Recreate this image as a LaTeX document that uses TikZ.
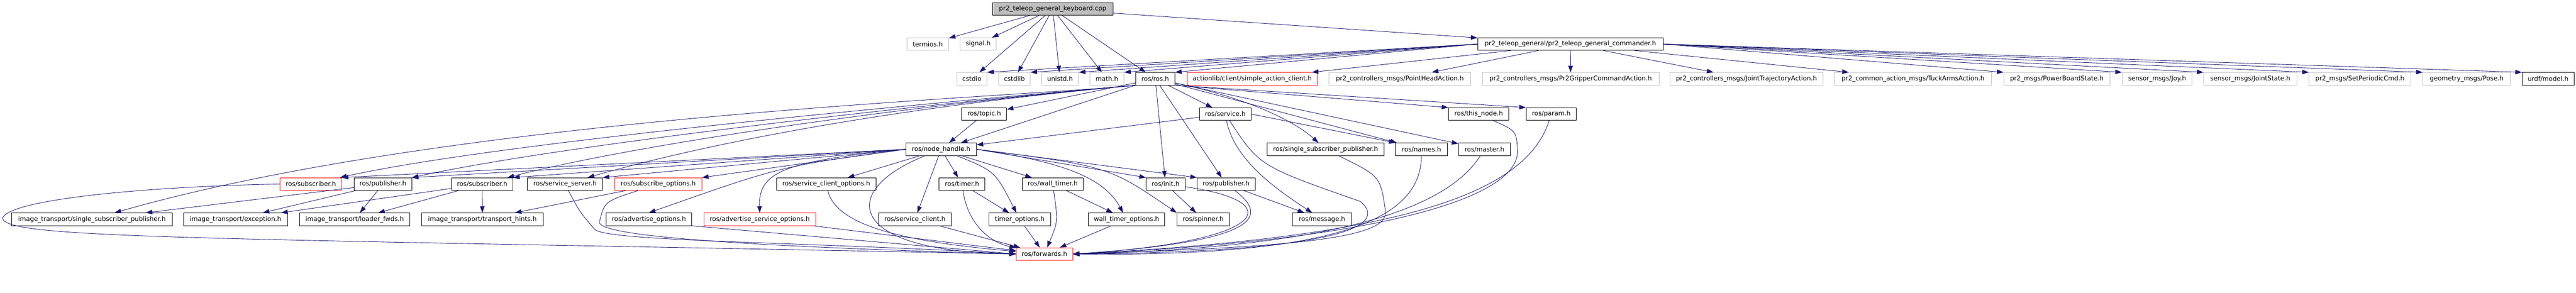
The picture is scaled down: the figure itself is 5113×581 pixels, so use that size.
\documentclass[tikz,border=0pt]{standalone}
\usepackage{fontspec}
\setmainfont{DejaVu Sans}
\usetikzlibrary{arrows.meta}
\definecolor{edgeblue}{HTML}{191970}
\definecolor{boxgray}{HTML}{BFBFBF}
\tikzset{
  hdr/.style={draw=black, fill=white, line width=0.9pt, inner sep=0pt, minimum height=25pt, text=black},
  hdrgray/.style={hdr, draw=boxgray},
  hdrred/.style={hdr, draw=red},
  hdrroot/.style={hdr, fill=boxgray},
  incl/.style={draw=edgeblue, line width=0.9pt, -{Triangle[length=13pt,width=9pt]}}
}
\begin{document}
\begin{tikzpicture}[x=1pt, y=-1pt, font=\fontsize{12.6}{15}\selectfont]
            \useasboundingbox (0,0) rectangle (5113,581);

            % Drawing node keyboard.cpp
            \node [hdrroot, minimum width=239pt] (kbd) at (2089.5,18.0) {pr2\_teleop\_general\_keyboard.cpp};

            % Drawing row of termios.h
            \node [hdrgray, minimum width=83pt] (termios) at (1841.5,87.5) {termios.h};
            \node [hdrgray, minimum width=71pt] (signal) at (1941.5,87.5) {signal.h};
            \node [hdr, minimum width=368pt] (cmdr) at (3117.0,87.5) {pr2\_teleop\_general/pr2\_teleop\_general\_commander.h};

            % Drawing row of cstdio
            \node [hdrgray, minimum width=60pt] (cstdio) at (1929.0,156.5) {cstdio};
            \node [hdrgray, minimum width=63pt] (cstdlib) at (2013.5,156.5) {cstdlib};
            \node [hdrgray, minimum width=74pt] (unistd) at (2104.0,156.5) {unistd.h};
            \node [hdrgray, minimum width=68pt] (mathh) at (2197.0,156.5) {math.h};
            \node [hdr, minimum width=78pt] (rosh) at (2293.0,156.5) {ros/ros.h};
            \node [hdrred, minimum width=259pt] (actcli) at (2485.5,156.5) {actionlib/client/simple\_action\_client.h};
            \node [hdrgray, minimum width=281pt] (headact) at (2778.5,156.5) {pr2\_controllers\_msgs/PointHeadAction.h};
            \node [hdrgray, minimum width=351pt] (gripact) at (3117.5,156.5) {pr2\_controllers\_msgs/Pr2GripperCommandAction.h};
            \node [hdrgray, minimum width=303pt] (trajact) at (3466.5,156.5) {pr2\_controllers\_msgs/JointTrajectoryAction.h};
            \node [hdrgray, minimum width=312pt] (tuckact) at (3797.0,156.5) {pr2\_common\_action\_msgs/TuckArmsAction.h};
            \node [hdrgray, minimum width=211pt] (powerst) at (4082.5,156.5) {pr2\_msgs/PowerBoardState.h};
            \node [hdrgray, minimum width=139pt] (joy) at (4281.5,156.5) {sensor\_msgs/Joy.h};
            \node [hdrgray, minimum width=185pt] (jointst) at (4466.5,156.5) {sensor\_msgs/JointState.h};
            \node [hdrgray, minimum width=202pt] (periodic) at (4684.0,156.5) {pr2\_msgs/SetPeriodicCmd.h};
            \node [hdrgray, minimum width=174pt] (pose) at (4896.0,156.5) {geometry\_msgs/Pose.h};
            \node [hdr, minimum width=103pt] (urdf) at (5057.5,156.5) {urdf/model.h};

            % Drawing row of ros/topic.h
            \node [hdr, minimum width=89pt] (topic) at (1953.5,226.5) {ros/topic.h};
            \node [hdr, minimum width=102pt] (service) at (2432.0,226.5) {ros/service.h};
            \node [hdr, minimum width=120pt] (thisnode) at (2935.0,226.5) {ros/this\_node.h};
            \node [hdr, minimum width=100pt] (param) at (3079.0,226.5) {ros/param.h};

            % Drawing row of ros/node_handle.h
            \node [hdr, minimum width=140pt] (nh) at (1868.0,296.5) {ros/node\_handle.h};
            \node [hdr, minimum width=232pt] (sspub) at (2631.0,296.5) {ros/single\_subscriber\_publisher.h};
            \node [hdr, minimum width=103pt] (names) at (2821.5,296.5) {ros/names.h};
            \node [hdr, minimum width=103pt] (master) at (2946.5,296.5) {ros/master.h};

            % Drawing row of ros/subscriber.h
            \node [hdrred, minimum width=122pt] (subred) at (617.0,365.5) {ros/subscriber.h};
            \node [hdr, minimum width=114pt] (pubit) at (760.0,365.5) {ros/publisher.h};
            \node [hdr, minimum width=122pt] (subit) at (957.0,365.5) {ros/subscriber.h};
            \node [hdr, minimum width=149pt] (srvserver) at (1121.5,365.5) {ros/service\_server.h};
            \node [hdrred, minimum width=173pt] (subopts) at (1306.5,365.5) {ros/subscribe\_options.h};
            \node [hdr, minimum width=198pt] (cliopts) at (1640.0,365.5) {ros/service\_client\_options.h};
            \node [hdr, minimum width=91pt] (timer) at (1909.5,365.5) {ros/timer.h};
            \node [hdr, minimum width=121pt] (walltimer) at (2089.5,365.5) {ros/wall\_timer.h};
            \node [hdr, minimum width=77pt] (init) at (2313.5,365.5) {ros/init.h};
            \node [hdr, minimum width=115pt] (pub) at (2433.5,365.5) {ros/publisher.h};

            % Drawing row of image_transport headers
            \node [hdr, minimum width=319pt] (itsspub) at (182.5,435.5) {image\_transport/single\_subscriber\_publisher.h};
            \node [hdr, minimum width=207pt] (itexc) at (467.5,435.5) {image\_transport/exception.h};
            \node [hdr, minimum width=218pt] (itloader) at (704.0,435.5) {image\_transport/loader\_fwds.h};
            \node [hdr, minimum width=241pt] (ithints) at (957.5,435.5) {image\_transport/transport\_hints.h};
            \node [hdr, minimum width=170pt] (advopts) at (1288.0,435.5) {ros/advertise\_options.h};
            \node [hdrred, minimum width=222pt] (advsrvopts) at (1508.0,435.5) {ros/advertise\_service\_options.h};
            \node [hdr, minimum width=144pt] (srvclient) at (1816.0,435.5) {ros/service\_client.h};
            \node [hdr, minimum width=122pt] (timeropts) at (2024.0,435.5) {timer\_options.h};
            \node [hdr, minimum width=152pt] (walltimeropts) at (2236.0,435.5) {wall\_timer\_options.h};
            \node [hdr, minimum width=104pt] (spinner) at (2388.0,435.5) {ros/spinner.h};
            \node [hdr, minimum width=118pt] (message) at (2624.0,435.5) {ros/message.h};

            % Drawing node ros/forwards.h
            \node [hdrred, minimum width=112pt] (fwd) at (2073.0,504.5) {ros/forwards.h};

            % Drawing includes of keyboard.cpp
            \draw [incl] (kbd) -- (termios);
            \draw [incl] (kbd) -- (signal);
            \draw [incl] (kbd) -- (cstdio);
            \draw [incl] (kbd) -- (cstdlib);
            \draw [incl] (kbd) -- (unistd);
            \draw [incl] (kbd) -- (mathh);
            \draw [incl] (kbd) -- (rosh);
            \draw [incl] (kbd) -- (cmdr);

            % Drawing includes of commander.h
            \draw [incl] (cmdr.west) -- (cstdio.north east);
            \draw [incl] (cmdr.west) -- (cstdlib.north east);
            \draw [incl] (cmdr.west) -- (unistd.north east);
            \draw [incl] (cmdr.west) -- (mathh.north east);
            \draw [incl] (cmdr.west) -- (rosh.north east);
            \draw [incl] (cmdr) -- (actcli);
            \draw [incl] (cmdr) -- (headact);
            \draw [incl] (cmdr) -- (gripact);
            \draw [incl] (cmdr) -- (trajact);
            \draw [incl] (cmdr) -- (tuckact);
            \draw [incl] (cmdr.east) -- (powerst.north west);
            \draw [incl] (cmdr.east) -- (joy.north west);
            \draw [incl] (cmdr.east) -- (jointst.north west);
            \draw [incl] (cmdr.east) -- (periodic.north west);
            \draw [incl] (cmdr.east) -- (pose.north west);
            \draw [incl] (cmdr.east) -- (urdf.north west);

            % Drawing includes of ros/ros.h
            \draw [incl] (rosh) -- (topic);
            \draw [incl] (rosh) -- (nh);
            \draw [incl] (rosh) -- (service);
            \draw [incl] (rosh) -- (init);
            \draw [incl] (rosh) -- (pub);
            \draw [incl] (rosh) -- (names);
            \draw [incl] (rosh) -- (master);
            \draw [incl] (rosh.south east) -- (thisnode.north west);
            \draw [incl] (rosh.south east) -- (param.north west);
            \draw [incl] (rosh) .. controls (2500,200) and (2580,250) .. (sspub);
            \draw [incl] (rosh.south west) .. controls (2000,195) and (900,230) .. (itsspub);
            \draw [incl] (rosh.south west) .. controls (1900,200) and (1000,280) .. (subred);
            \draw [incl] (rosh.south west) .. controls (1800,210) and (1100,290) .. (pubit);
            \draw [incl] (rosh.south west) .. controls (1750,215) and (1250,290) .. (subit);
            \draw [incl] (rosh.south west) .. controls (1700,220) and (1350,300) .. (srvserver);

            % Drawing includes of ros/node_handle.h
            \draw [incl] (nh.west) -- (subred.north east);
            \draw [incl] (nh.west) -- (pubit.north east);
            \draw [incl] (nh.west) -- (subit.north east);
            \draw [incl] (nh.west) -- (srvserver.north east);
            \draw [incl] (nh.west) -- (subopts.north east);
            \draw [incl] (nh) -- (cliopts);
            \draw [incl] (nh.west) .. controls (1550,330) .. (advopts.north);
            \draw [incl] (nh.west) .. controls (1560,320) and (1505,340) .. (advsrvopts.north);
            \draw [incl] (nh) -- (srvclient);
            \draw [incl] (nh) -- (timer);
            \draw [incl] (nh) .. controls (1975,340) .. (timeropts);
            \draw [incl] (nh) -- (walltimer);
            \draw [incl] (nh.east) .. controls (2100,320) and (2190,350) .. (walltimeropts);
            \draw [incl] (nh.east) -- (init.north west);
            \draw [incl] (nh.east) -- (pub.north west);
            \draw [incl] (nh.east) .. controls (2200,330) .. (spinner.north west);
            \draw [incl] (nh) .. controls (1660,380) and (1680,500) .. (fwd);

            % Drawing includes of ros/topic.h and ros/service.h
            \draw [incl] (topic) -- (nh);
            \draw [incl] (service) -- (nh);
            \draw [incl] (service.east) -- (names.north west);
            \draw [incl] (service) .. controls (2450,320) and (2540,380) .. (message);
            \draw [incl] (service) .. controls (2500,330) .. (2700,400) .. controls (2760,450) and (2650,500) .. (fwd.east);

            % Drawing includes towards ros/forwards.h from the right
            \draw [incl] (sspub) .. controls (2740,350) .. (2750,420) .. controls (2755,470) and (2600,490) .. (fwd.east);
            \draw [incl] (names) .. controls (2820,420) and (2700,510) .. (fwd.east);
            \draw [incl] (master) .. controls (2880,400) and (2700,490) .. (fwd.east);
            \draw [incl] (thisnode) .. controls (3010,260) .. (3012,300) .. controls (3014,400) and (2700,480) .. (fwd.east);
            \draw [incl] (param) .. controls (3030,380) and (2800,470) .. (fwd.east);

            % Drawing includes of ros/publisher.h and ros/init.h
            \draw [incl] (pub) -- (message);
            \draw [incl] (pub) .. controls (2520,430) and (2500,480) .. (fwd.east);
            \draw [incl] (init) -- (spinner);
            \draw [incl] (init) .. controls (2560,400) and (2520,480) .. (fwd.east);

            % Drawing includes of the timers
            \draw [incl] (walltimer) -- (walltimeropts);
            \draw [incl] (walltimer) .. controls (2100,440) .. (fwd);
            \draw [incl] (timer) -- (timeropts);
            \draw [incl] (timer) .. controls (1920,440) and (1960,480) .. (fwd);
            \draw [incl] (timeropts) -- (fwd);
            \draw [incl] (walltimeropts) -- (fwd);

            % Drawing includes of the options headers
            \draw [incl] (srvclient) -- (fwd);
            \draw [incl] (cliopts) .. controls (1660,450) and (1800,480) .. (fwd);
            \draw [incl] (advsrvopts) -- (fwd);
            \draw [incl] (advopts.south east) -- (fwd.west);
            \draw [incl] (subopts) .. controls (1200,400) .. (1190,440) .. controls (1180,470) and (1500,490) .. (fwd.west);
            \draw [incl] (subopts) -- (ithints);
            \draw [incl] (srvserver) .. controls (1150,420) .. (1180,455) .. controls (1200,480) and (1600,480) .. (fwd.west);
            \draw [incl] (subred.west) .. controls (300,370) and (20,395) .. (5,433) .. controls (10,475) and (400,472) .. (fwd.west);

            % Drawing includes of the image_transport headers
            \draw [incl] (pubit) -- (itsspub);
            \draw [incl] (pubit) -- (itexc);
            \draw [incl] (pubit) -- (itloader);
            \draw [incl] (subit) -- (itexc);
            \draw [incl] (subit) -- (itloader);
            \draw [incl] (subit) -- (ithints);
\end{tikzpicture}
\end{document}
